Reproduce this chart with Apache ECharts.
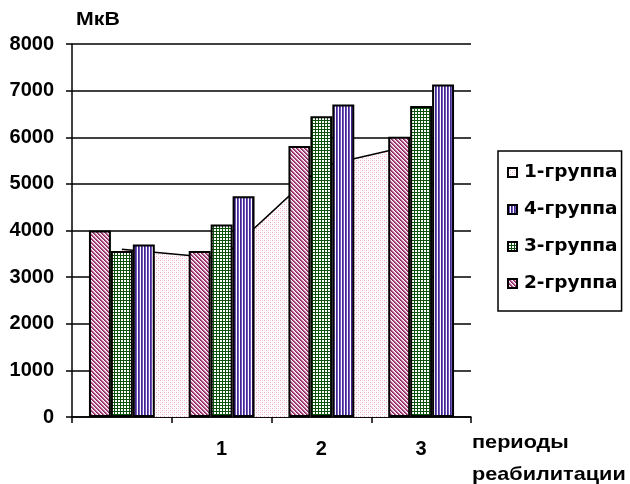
<!DOCTYPE html>
<html>
<head>
<meta charset="utf-8">
<script src="https://cdn.jsdelivr.net/npm/echarts@6/dist/echarts.min.js"></script>
<style>
  html, body { margin: 0; padding: 0; background: #fff; }
  #chart { width: 630px; height: 484px; }
</style>
</head>
<body>
<div id="chart"></div>
<script>
// Rehabilitation periods (first category is the baseline, unlabeled)
const categories = ['', '1', '2', '3'];
// Values in µV per group
const group1 = [3600, 3400, 5380, 5870];
const group2 = [4000, 3560, 5810, 6010];
const group3 = [3560, 4130, 6450, 6670];
const group4 = [3700, 4735, 6700, 7130];
const yTicks = { min: 0, max: 8000, step: 1000 };

const FONT = '"Liberation Sans", Arial, sans-serif';
const WIDE_FONT = '"DejaVu Sans", Verdana, sans-serif';

// Small repeating fill patterns drawn on canvases
function pattern(w, h, draw) {
  const c = document.createElement('canvas');
  c.width = w; c.height = h;
  const g = c.getContext('2d');
  g.fillStyle = '#ffffff';
  g.fillRect(0, 0, w, h);
  draw(g);
  return { image: c, repeat: 'repeat' };
}
const dotsPink = pattern(4, 4, g => {
  g.fillStyle = '#f2a6c4';
  g.fillRect(0, 0, 1, 1);
  g.fillRect(2, 2, 1, 1);
  g.fillStyle = '#fbe0ea';
  g.fillRect(2, 0, 1, 1);
  g.fillRect(0, 2, 1, 1);
});
const diagPurple = pattern(4, 4, g => {
  for (let y = 0; y < 4; y++) {
    for (let x = 0; x < 4; x++) {
      const d = ((x - y) % 4 + 4) % 4;
      if (d === 0) { g.fillStyle = '#8a2a63'; g.fillRect(x, y, 1, 1); }
      else if (d === 1) { g.fillStyle = '#b0508a'; g.fillRect(x, y, 1, 1); }
      else if (d === 2) { g.fillStyle = '#e6b3d0'; g.fillRect(x, y, 1, 1); }
    }
  }
});
const gridGreen = pattern(3, 3, g => {
  g.fillStyle = '#0c520c';
  g.fillRect(0, 0, 3, 1);
  g.fillRect(0, 0, 1, 3);
});
const stripesViolet = pattern(3, 3, g => {
  g.fillStyle = '#442591';
  g.fillRect(0, 0, 1, 3);
  g.fillStyle = '#7058bc';
  g.fillRect(1, 0, 1, 3);
});

const chart = echarts.init(document.getElementById('chart'), null, { renderer: 'canvas' });

const barBase = {
  type: 'bar',
  barGap: '0%',
  barCategoryGap: '34%',
  z: 3
};
const iconBorder = { borderColor: '#000', borderWidth: 2 };

chart.setOption({
  animation: false,
  backgroundColor: '#ffffff',
  textStyle: { fontFamily: FONT },
  grid: { left: 72, right: 159, top: 44, bottom: 67 },
  legend: {
    orient: 'vertical',
    left: 498,
    top: 151,
    padding: [12, 4, 18, 9],
    itemGap: 18,
    itemWidth: 9,
    itemHeight: 9,
    borderColor: '#000',
    borderWidth: 1.5,
    icon: 'rect',
    textStyle: { fontFamily: WIDE_FONT, fontWeight: 'bold', fontSize: 18.5, color: '#000', padding: [0, 0, 0, 2] },
    data: [
      { name: '1-группа', itemStyle: Object.assign({ color: dotsPink }, iconBorder) },
      { name: '4-группа', itemStyle: Object.assign({ color: stripesViolet }, iconBorder) },
      { name: '3-группа', itemStyle: Object.assign({ color: gridGreen }, iconBorder) },
      { name: '2-группа', itemStyle: Object.assign({ color: diagPurple }, iconBorder) }
    ]
  },
  xAxis: {
    type: 'category',
    data: categories,
    boundaryGap: true,
    axisLine: { lineStyle: { color: '#000', width: 1.5 } },
    axisTick: { show: true, length: 6, lineStyle: { color: '#000', width: 1.5 } },
    axisLabel: { fontFamily: FONT, fontWeight: 'bold', fontSize: 20, color: '#000', margin: 22 }
  },
  yAxis: {
    type: 'value',
    min: yTicks.min,
    max: yTicks.max,
    interval: yTicks.step,
    axisLine: { show: true, lineStyle: { color: '#000', width: 1.5 } },
    axisTick: { show: true, length: 6, lineStyle: { color: '#000', width: 1.5 } },
    axisLabel: {
      fontFamily: FONT, fontWeight: 'bold', fontSize: 20, color: '#000', margin: 18,
      formatter: v => String(v)
    },
    splitLine: { show: true, lineStyle: { color: '#000', width: 1.5 } }
  },
  graphic: [
    { type: 'text', left: 76, top: 10, scaleX: 1.12, style: { text: 'МкВ', font: 'bold 19px ' + FONT, fill: '#000' } },
    { type: 'text', left: 472, top: 433, scaleX: 1.14, style: { text: 'периоды', font: 'bold 19px ' + FONT, fill: '#000' } },
    { type: 'text', left: 472, top: 465, scaleX: 1.14, style: { text: 'реабилитации', font: 'bold 19px ' + FONT, fill: '#000' } }
  ],
  series: [
    {
      name: '1-группа',
      type: 'line',
      data: group1,
      symbol: 'none',
      z: 1,
      lineStyle: { color: '#000', width: 1.5 },
      itemStyle: { color: dotsPink },
      areaStyle: { color: dotsPink, opacity: 1 }
    },
    Object.assign({}, barBase, {
      name: '2-группа', data: group2,
      itemStyle: { color: diagPurple, borderColor: '#000', borderWidth: 2 }
    }),
    Object.assign({}, barBase, {
      name: '3-группа', data: group3,
      itemStyle: { color: gridGreen, borderColor: '#000', borderWidth: 2 }
    }),
    Object.assign({}, barBase, {
      name: '4-группа', data: group4,
      itemStyle: { color: stripesViolet, borderColor: '#000', borderWidth: 2 }
    })
  ]
});
</script>
</body>
</html>
